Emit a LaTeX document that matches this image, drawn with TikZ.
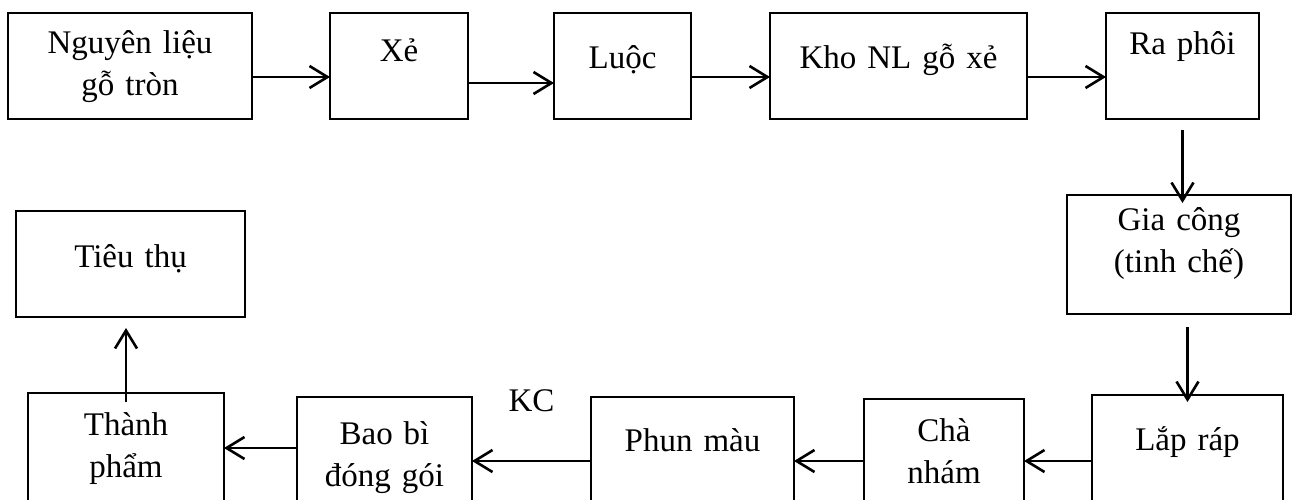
\documentclass[tikz,border=0pt]{standalone}
\usepackage{fontspec}
\setmainfont{Liberation Serif}
\usetikzlibrary{positioning,arrows.meta}

\begin{document}
\begin{tikzpicture}[x=1pt,y=-1pt,
	font=\fontsize{33}{42}\selectfont,
	stage/.style={rectangle,draw,line width=1.8pt,inner sep=0pt,outer sep=0pt,align=center},
	dims/.style n args={3}{text width=#1pt,text height=#2pt,text depth=#3pt},
	flow/.style={line width=2.6pt,-{Straight Barb[length=18pt,width=22pt]}}]
	\useasboundingbox (0,0) rectangle (1294,499);
	\clip (0,0) rectangle (1294,499);
	\node (nguyenlieu)[stage,dims={244}{40}{66}] at (130,66) {Nguyên liệu\\gỗ tròn};
	\node (xe)[stage,dims={138}{48}{58},right=78pt of nguyenlieu]{Xẻ};
	\node (luoc)[stage,dims={137}{55}{51},right=86pt of xe]{Luộc};
	\node (kho)[stage,dims={257}{55}{51},right=79pt of luoc]{Kho NL gỗ xẻ};
	\node (raphoi)[stage,dims={153}{41}{65},right=79pt of kho]{Ra phôi};
	\node (giacong)[stage,dims={224}{35}{84},below=76pt of raphoi,xshift=-3.5pt]{Gia công\\(tinh chế)};
	\node (laprap)[stage,dims={191}{55}{65},below=81pt of giacong,xshift=8.5pt]{Lắp ráp};
	\node (chanham)[stage,dims={160}{42}{70},left=68pt of laprap]{Chà\\nhám};
	\node (phunmau)[stage,dims={203}{54}{62},left=70pt of chanham]{Phun màu};
	\node (baobi)[stage,dims={175}{47}{69},left=119pt of phunmau]{Bao bì\\đóng gói};
	\node (thanhpham)[stage,dims={196}{42}{82},left=73pt of baobi]{Thành\\phẩm};
	\node (tieuthu)[stage,dims={229}{56}{50},above=76pt of thanhpham,xshift=4.5pt]{Tiêu thụ};

	% top row, left to right
	\draw[flow] ([yshift=-11pt]nguyenlieu.east) -- ([yshift=-11pt]xe.west);
	\draw[flow] ([yshift=-17pt]xe.east) -- ([yshift=-17pt]luoc.west);
	\draw[flow] ([yshift=-11pt]luoc.east) -- ([yshift=-11pt]kho.west);
	\draw[flow] ([yshift=-11pt]kho.east) -- ([yshift=-11pt]raphoi.west);
	% down the right side
	\draw[flow,shorten <=11pt,shorten >=-8pt] (raphoi.south) -- (raphoi.south |- giacong.north);
	\draw[flow,shorten <=13pt,shorten >=-7pt] (laprap.north |- giacong.south) -- (laprap.north);
	% bottom row, right to left
	\draw[flow] ([yshift=-6pt]laprap.west) -- ([yshift=-6pt]chanham.east);
	\draw[flow] ([yshift=-6pt]chanham.west) -- ([yshift=-6pt]phunmau.east);
	\draw[flow] ([yshift=-6pt]phunmau.west) -- node[midway,above=48pt,inner sep=0pt]{KC} ([yshift=-6pt]baobi.east);
	\draw[flow] ([yshift=7pt]baobi.west) -- ([yshift=7pt]thanhpham.east);
	\draw[flow,shorten <=-9pt,shorten >=11pt] (thanhpham.north) -- (thanhpham.north |- tieuthu.south);
\end{tikzpicture}
\end{document}
